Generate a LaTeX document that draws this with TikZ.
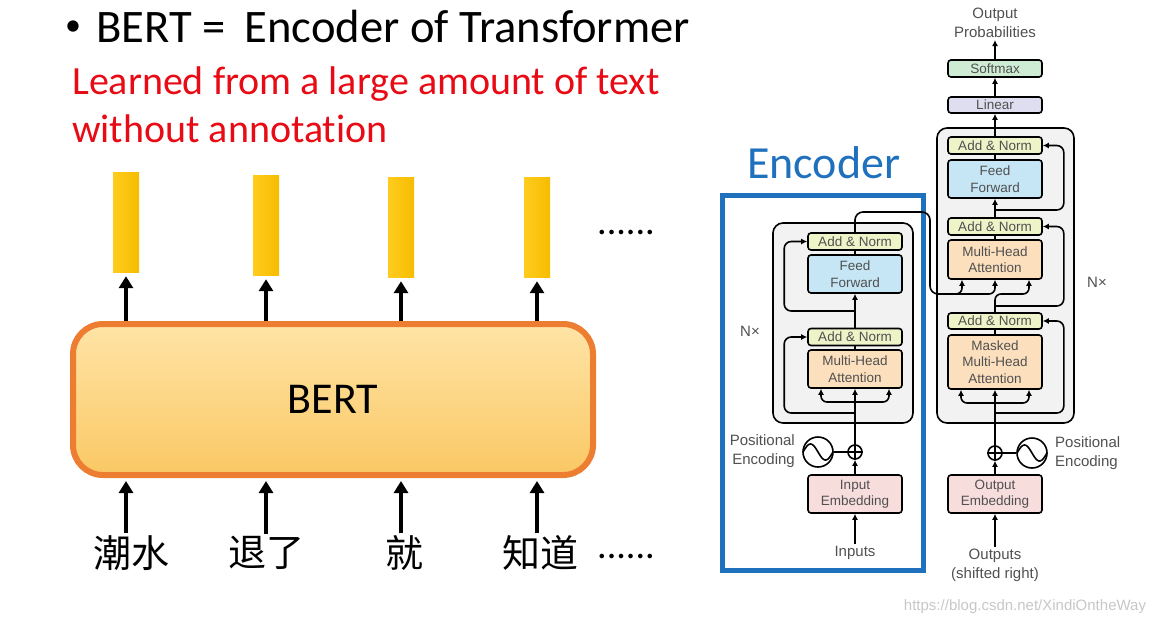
\documentclass[tikz,border=0pt]{standalone}
\usepackage{fontspec}
\setmainfont{Carlito}[Ligatures=NoCommon]
\newfontfamily\cjkfont{Noto Sans CJK SC}
\newfontfamily\diafont{Liberation Sans}
\usetikzlibrary{arrows.meta, positioning}

\definecolor{bertorange}{RGB}{237,125,49}
\definecolor{berttop}{RGB}{255,228,166}
\definecolor{bertbottom}{RGB}{250,200,100}
\definecolor{vecleft}{RGB}{255,204,30}
\definecolor{vecright}{RGB}{246,188,0}
\definecolor{notered}{RGB}{232,10,20}
\definecolor{encblue}{RGB}{31,113,189}
\definecolor{labelgray}{RGB}{80,80,80}
\definecolor{stackgray}{RGB}{242,242,242}
\definecolor{addnormfill}{RGB}{239,244,200}
\definecolor{fffill}{RGB}{198,230,245}
\definecolor{attfill}{RGB}{252,224,190}
\definecolor{embfill}{RGB}{248,221,221}
\definecolor{linfill}{RGB}{222,222,240}
\definecolor{softfill}{RGB}{206,236,212}

\begin{document}
\begin{tikzpicture}[x=1pt, y=-1pt,
  bigarr/.style={line width=4pt, -{Triangle[width=14pt,length=12pt]}},
  arr/.style={line width=1.6pt, -{Latex[length=6pt,width=6pt]}},
  link/.style={line width=1.6pt},
  vecbar/.style={left color=vecleft, right color=vecright, minimum width=26pt, minimum height=100pt, inner sep=0pt},
  bertbox/.style={draw=bertorange, line width=6pt, rounded corners=30pt, top color=berttop, bottom color=bertbottom, minimum width=520pt, minimum height=151pt, font=\fontsize{44}{48}\selectfont},
  word/.style={font=\cjkfont\fontsize{38}{42}\selectfont, inner sep=2pt},
  block/.style={draw, line width=1.6pt, rounded corners=3pt, minimum width=94pt, inner sep=0pt, align=center, text=labelgray, font=\diafont\fontsize{13.5}{16.5}\selectfont},
  addnorm/.style={block, fill=addnormfill, minimum height=17pt},
  ffbox/.style={block, fill=fffill, minimum height=38pt},
  attbox/.style={block, fill=attfill, minimum height=38pt},
  embbox/.style={block, fill=embfill, minimum height=38pt},
  stack/.style={draw, line width=1.6pt, rounded corners=10pt, fill=stackgray},
  label/.style={text=labelgray, font=\diafont\fontsize{15}{19}\selectfont, inner sep=2pt},
  pesum/.style={draw, circle, line width=1.6pt, minimum size=14pt, inner sep=0pt},
  pewave/.style={draw, circle, line width=1.6pt, minimum size=30pt, inner sep=0pt}]
\useasboundingbox (0,0) rectangle (1162,625);

\node[anchor=base west, inner sep=0pt, font=\fontsize{46.6}{50}\selectfont] (title) at (65,42) {\raisebox{7pt}{\fontsize{32}{32}\selectfont•}\hspace{15pt}BERT =\hspace{19pt}Encoder of Transformer};
\node[anchor=base west, inner sep=0pt, text=notered, font=\fontsize{40}{44}\selectfont] (note1) at (72,94) {Learned from a large amount of text};
\node[anchor=base west, inner sep=0pt, text=notered, font=\fontsize{40}{44}\selectfont] (note2) at (72,142) {without annotation};

\node[bertbox] (bert) at (333,399.5) {BERT};
\node[vecbar] (vec1) at (126,222) {};
\node[vecbar] (vec2) at (266,225) {};
\node[vecbar] (vec3) at (401,227) {};
\node[vecbar] (vec4) at (537,227) {};
\draw[bigarr, shorten >=4pt] (bert.north -| vec1) -- (vec1.south);
\draw[bigarr, shorten >=4pt] (bert.north -| vec2) -- (vec2.south);
\draw[bigarr, shorten >=4pt] (bert.north -| vec3) -- (vec3.south);
\draw[bigarr, shorten >=4pt] (bert.north -| vec4) -- (vec4.south);
\node[font=\fontsize{38}{42}\selectfont] (dotsup) at (626,232) {......};

\node[word] (tok1) at (131,553) {潮水};
\node[word] (tok2) at (266,553) {退了};
\node[word] (tok3) at (404,553) {就};
\node[word] (tok4) at (540,553) {知道};
\node[font=\fontsize{38}{42}\selectfont] (dotsdown) at (626,556) {......};
\draw[bigarr, shorten >=3pt] (tok1.north -| vec1) -- (bert.south -| vec1);
\draw[bigarr, shorten >=3pt] (tok2.north -| vec2) -- (bert.south -| vec2);
\draw[bigarr, shorten >=3pt] (tok3.north -| vec3) -- (bert.south -| vec3);
\draw[bigarr, shorten >=3pt] (tok4.north -| vec4) -- (bert.south -| vec4);

\node[text=encblue, anchor=base west, inner sep=0pt, font=\fontsize{46}{50}\selectfont] (enclabel) at (747,178) {Encoder};
\draw[encblue, line width=5pt] (722,195) rectangle (923,570);

\draw[stack] (773,223) rectangle (913,423);
\draw[stack] (937,128) rectangle (1074,423);
\node[label] (encN) at (750,331) {N×};
\node[label] (decN) at (1097,282) {N×};

\node[addnorm] (encAN2) at (855,241.5) {Add \& Norm};
\node[ffbox] (encFF) at (855,274) {Feed\\Forward};
\node[addnorm] (encAN1) at (855,337) {Add \& Norm};
\node[attbox] (encMHA) at (855,369) {Multi-Head\\Attention};
\node[pesum] (encSum) at (855,452) {};
\node[pewave] (encWave) at (818,452) {};
\node[label, anchor=east, align=right] (encPE) at (797,451) {Positional\\Encoding};
\node[embbox] (encEmb) at (855,494) {Input\\Embedding};
\node[label] (inputs) at (855,553) {Inputs};

\node[label, align=center] (outprob) at (995,23) {Output\\Probabilities};
\node[addnorm, minimum height=17pt, fill=softfill] (softmax) at (995,68.5) {Softmax};
\node[addnorm, minimum height=16pt, fill=linfill] (linear) at (995,105) {Linear};
\node[addnorm] (decAN3) at (995,145.5) {Add \& Norm};
\node[ffbox] (decFF) at (995,179) {Feed\\Forward};
\node[addnorm] (decAN2) at (995,226.5) {Add \& Norm};
\node[attbox, minimum height=39pt] (decMHA) at (995,259.5) {Multi-Head\\Attention};
\node[addnorm, minimum height=16pt] (decAN1) at (995,321) {Add \& Norm};
\node[attbox, minimum height=54pt] (decMMHA) at (995,362) {Masked\\Multi-Head\\Attention};
\node[pesum] (decSum) at (995,453) {};
\node[pewave] (decWave) at (1032,453) {};
\node[label, anchor=west, align=left] (decPE) at (1053,453) {Positional\\Encoding};
\node[embbox] (decEmb) at (995,494) {Output\\Embedding};
\node[label, align=center] (outputs) at (995,565) {Outputs\\(shifted right)};

\draw[link] (encSum.north) -- (encSum.south) (encSum.west) -- (encSum.east);
\draw[link] (decSum.north) -- (decSum.south) (decSum.west) -- (decSum.east);
\draw[link, shift={(encWave.center)}, domain=-15:15, samples=40, smooth] plot (\x, {8*sin(12*\x)});
\draw[link, shift={(decWave.center)}, domain=-15:15, samples=40, smooth] plot (\x, {8*sin(12*\x)});
\draw[link] (encWave) -- (encSum);
\draw[link] (decWave) -- (decSum);

\coordinate (encSplit) at (855,402);
\coordinate (encRes1) at (855,413);
\coordinate (encRes2) at (855,311);
\draw[arr] (inputs.north) -- (encEmb.south);
\draw[arr] (encEmb.north) -- (encSum.south);
\draw[arr] (encSum.north) -- (encMHA.south);
\draw[arr, rounded corners=6pt] (encSplit) -| ([xshift=-34pt]encMHA.south);
\draw[arr, rounded corners=6pt] (encSplit) -| ([xshift=34pt]encMHA.south);
\draw[arr, rounded corners=7pt] (encRes1) -| ([xshift=-23pt]encAN1.west) -- (encAN1.west);
\draw[link] (encMHA.north) -- (encAN1.south);
\draw[arr] (encAN1.north) -- (encFF.south);
\draw[arr, rounded corners=7pt] (encRes2) -| ([xshift=-23pt]encAN2.west) -- (encAN2.west);
\draw[link] (encFF.north) -- (encAN2.south);

\coordinate (encOut) at (945,294);
\draw[link, rounded corners=8pt] (encAN2.north) |- (930,212) -- (930,294) -- (encOut);
\draw[arr, rounded corners=6pt] (encOut) -| ([xshift=-33pt]decMHA.south);
\draw[arr, rounded corners=6pt] (encOut) -| (decMHA.south);

\coordinate (decSplit) at (995,403);
\coordinate (decRes1) at (995,413);
\coordinate (decRes2) at (995,306);
\coordinate (decRes3) at (995,210);
\draw[arr] (outputs.north) -- (decEmb.south);
\draw[arr] (decEmb.north) -- (decSum.south);
\draw[arr] (decSum.north) -- (decMMHA.south);
\draw[arr, rounded corners=6pt] (decSplit) -| ([xshift=-34pt]decMMHA.south);
\draw[arr, rounded corners=6pt] (decSplit) -| ([xshift=34pt]decMMHA.south);
\draw[arr, rounded corners=7pt] (decRes1) -| ([xshift=21pt]decAN1.east) -- (decAN1.east);
\draw[link] (decMMHA.north) -- (decAN1.south);
\draw[arr, rounded corners=6pt] (decAN1.north) -- (995,294) -| ([xshift=34pt]decMHA.south);
\draw[arr, rounded corners=7pt] (decRes2) -| ([xshift=21pt]decAN2.east) -- (decAN2.east);
\draw[link] (decMHA.north) -- (decAN2.south);
\draw[arr] (decAN2.north) -- (decFF.south);
\draw[arr, rounded corners=7pt] (decRes3) -| ([xshift=21pt]decAN3.east) -- (decAN3.east);
\draw[link] (decFF.north) -- (decAN3.south);
\draw[arr] (decAN3.north) -- (linear.south);
\draw[arr] (linear.north) -- (softmax.south);
\draw[arr] (softmax.north) -- (outprob.south);

\node[text=black!22, font=\diafont\fontsize{15}{18}\selectfont] (mark) at (1025,607) {https://blog.csdn.net/XindiOntheWay};
\end{tikzpicture}
\end{document}
